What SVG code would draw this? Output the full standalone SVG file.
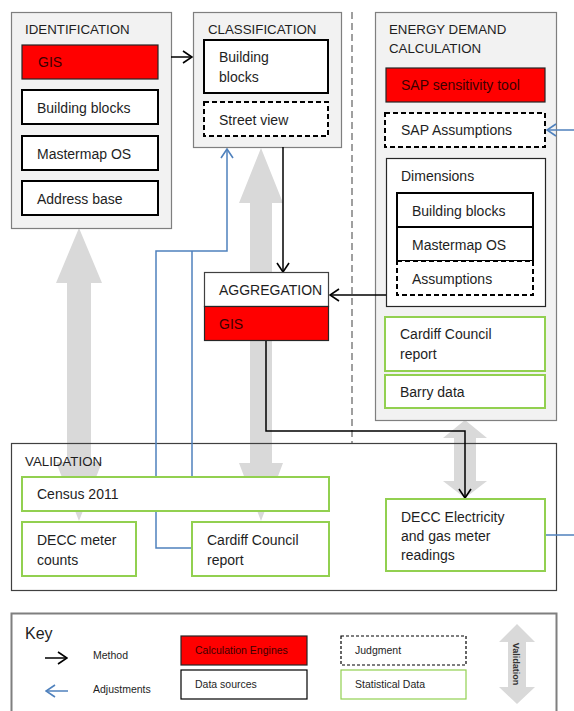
<svg xmlns="http://www.w3.org/2000/svg" width="574" height="711" viewBox="0 0 574 711">
<style>
text{font-family:"Liberation Sans",Arial,sans-serif;font-size:14px;fill:#1e1e1e}
.t{font-size:13.3px}
.r{fill:#3c0000}
.k{font-size:10.5px}
.panel{fill:#f2f2f2;stroke:#7f7f7f;stroke-width:1.2}
.box{fill:#fff;stroke:#000;stroke-width:2}
.red{fill:#ff0000;stroke:#262626;stroke-width:1.2}
.dash{fill:#fff;stroke:#000;stroke-width:2;stroke-dasharray:5 3}
.grn{fill:#fff;stroke:#92d050;stroke-width:2}
.ga{fill:#d9d9d9}
.bl{fill:none;stroke:#000;stroke-width:1.5}
.bu{fill:none;stroke:#4f81bd;stroke-width:1.5}
</style>
<defs>
<marker id="ab" markerUnits="userSpaceOnUse" viewBox="0 0 11 14" refX="10" refY="7" markerWidth="11" markerHeight="14" orient="auto"><path d="M1,1 L10,7 L1,13" fill="none" stroke="#000" stroke-width="1.6"/></marker>
<marker id="au" markerUnits="userSpaceOnUse" viewBox="0 0 11 14" refX="10" refY="7" markerWidth="11" markerHeight="14" orient="auto"><path d="M1,1 L10,7 L1,13" fill="none" stroke="#4f81bd" stroke-width="1.6"/></marker>
</defs>

<line x1="352" y1="12" x2="352" y2="580" stroke="#808080" stroke-width="1.5" stroke-dasharray="7 4"/>

<g id="validation">
<rect x="11.5" y="443.5" width="545" height="147" fill="#fff" stroke="none"/>
</g>

<g id="validation-arrows">
<polygon class="ga" points="79,228 102,283 91,283 91,462 102,462 79,521 56,462 67,462 67,283 56,283"/>
<polygon class="ga" points="261,148 283,203 272,203 272,463 283,463 261,521 239,463 250,463 250,203 239,203"/>
<polygon class="ga" points="465,420 487,438 476,438 476,481 487,481 465,498 443,481 454,481 454,438 443,438"/>
</g>
<rect x="11.5" y="443.5" width="545" height="147" fill="none" stroke="#404040" stroke-width="1.2"/>
<text x="25" y="466" class="t">VALIDATION</text>

<g id="identification">
<rect class="panel" x="11.5" y="12.5" width="160" height="216"/>
<text x="25" y="34" class="t">IDENTIFICATION</text>
<rect class="red" x="22" y="45" width="136" height="34"/>
<text x="38" y="67" class="r">GIS</text>
<rect class="box" x="22" y="90" width="136" height="34"/>
<text x="37" y="113">Building blocks</text>
<rect class="box" x="22" y="136" width="136" height="34"/>
<text x="37" y="159">Mastermap OS</text>
<rect class="box" x="22" y="181" width="136" height="34"/>
<text x="37" y="204">Address base</text>
</g>

<g id="classification">
<rect class="panel" x="193.5" y="12.5" width="148" height="135"/>
<text x="208" y="34" class="t">CLASSIFICATION</text>
<rect class="box" x="204" y="40" width="124" height="53"/>
<text x="219" y="62">Building</text>
<text x="219" y="82">blocks</text>
<rect class="dash" x="204" y="102" width="124" height="34"/>
<text x="219" y="125">Street view</text>
</g>

<g id="energy">
<rect class="panel" x="375.5" y="12.5" width="181" height="408"/>
<text x="389" y="34" class="t">ENERGY DEMAND</text>
<text x="389" y="53" class="t">CALCULATION</text>
<rect class="red" x="386" y="68" width="159" height="34"/>
<text x="401" y="90" class="r">SAP sensitivity  tool</text>
<rect class="dash" x="385" y="113" width="160" height="34"/>
<text x="401" y="135">SAP Assumptions</text>
<rect x="386.5" y="158.5" width="159" height="148" fill="#fff" stroke="#262626" stroke-width="1.2"/>
<text x="401" y="181">Dimensions</text>
<rect class="box" x="397" y="193" width="136" height="34"/>
<text x="412" y="216">Building blocks</text>
<rect class="box" x="397" y="227" width="136" height="34"/>
<text x="412" y="250">Mastermap OS</text>
<rect class="dash" x="397" y="261" width="136" height="34"/>
<text x="412" y="284">Assumptions</text>
<rect class="grn" x="385" y="317" width="160" height="54"/>
<text x="400" y="339">Cardiff Council</text>
<text x="400" y="359">report</text>
<rect class="grn" x="385" y="375" width="160" height="33"/>
<text x="400" y="397">Barry data</text>
</g>

<g id="connectors">
<line class="bl" x1="171" y1="57" x2="192" y2="57" marker-end="url(#ab)"/>
<line class="bl" x1="283" y1="147" x2="283" y2="272" marker-end="url(#ab)"/>
<line class="bl" x1="386" y1="295" x2="330" y2="295" marker-end="url(#ab)"/>
<polyline class="bl" points="266,340 266,431 465,431 465,498" marker-end="url(#ab)"/>
<polyline class="bu" points="192,548 156,548 156,251 227,251 227,149" marker-end="url(#au)"/>
<line class="bu" x1="192" y1="251" x2="192" y2="477"/>
<line class="bu" x1="574" y1="130" x2="547" y2="130" marker-end="url(#au)"/>
<line class="bu" x1="545" y1="535" x2="574" y2="535"/>
</g>

<g id="aggregation">
<rect x="204.5" y="272.5" width="124" height="34" fill="#fff" stroke="#404040" stroke-width="1.2"/>
<text x="219" y="295">AGGREGATION</text>
<rect class="red" x="204.5" y="306.5" width="124" height="34"/>
<text x="219" y="329" class="r">GIS</text>
</g>

<g id="validation-items">
<rect class="grn" x="22" y="477" width="307" height="34"/>
<text x="37" y="499">Census 2011</text>
<rect class="grn" x="22" y="522" width="114" height="54"/>
<text x="37" y="545">DECC meter</text>
<text x="37" y="565">counts</text>
<rect class="grn" x="192" y="522" width="137" height="54"/>
<text x="207" y="545">Cardiff Council</text>
<text x="207" y="565">report</text>
<rect class="grn" x="386" y="499" width="159" height="72"/>
<text x="401" y="522">DECC Electricity</text>
<text x="401" y="541">and gas meter</text>
<text x="401" y="560">readings</text>
</g>

<g id="key">
<rect x="11.5" y="613.5" width="545" height="110" fill="#fff" stroke="#7f7f7f" stroke-width="2"/>
<text x="25" y="639" style="font-size:16px">Key</text>
<line class="bl" x1="45" y1="658" x2="67" y2="658" marker-end="url(#ab)"/>
<text x="93" y="659" class="k">Method</text>
<line class="bu" x1="68" y1="691" x2="46" y2="691" marker-end="url(#au)"/>
<text x="93" y="693" class="k">Adjustments</text>
<rect class="red" x="181" y="636" width="126" height="29"/>
<text x="195" y="654" class="k r">Calculation Engines</text>
<rect x="181" y="670" width="126" height="29" fill="#fff" stroke="#000" stroke-width="1.2"/>
<text x="195" y="688" class="k">Data sources</text>
<rect x="341" y="636" width="125" height="29" fill="#fff" stroke="#000" stroke-width="1.2" stroke-dasharray="3 2"/>
<text x="355" y="654" class="k">Judgment</text>
<rect x="341" y="670" width="125" height="29" fill="#fff" stroke="#92d050" stroke-width="1.2"/>
<text x="355" y="688" class="k">Statistical Data</text>
<polygon class="ga" points="517,624 535,642 526,642 526,687 535,687 517,704 499,687 508,687 508,642 499,642"/>
<text transform="translate(513,664) rotate(90)" text-anchor="middle" style="font-size:9px;font-weight:bold;fill:#333">Validation</text>
</g>
</svg>
